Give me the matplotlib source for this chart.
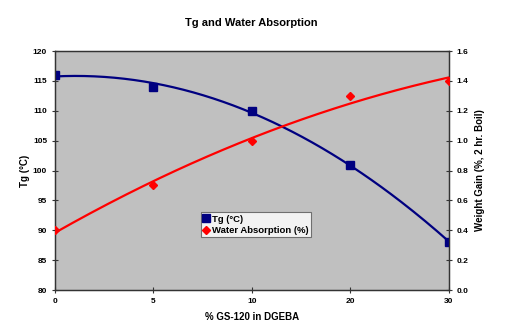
import numpy as np
import matplotlib
matplotlib.use('Agg')
import matplotlib.pyplot as plt

plt.rcParams['font.family'] = ['Liberation Sans', 'DejaVu Sans']
plt.rcParams['font.weight'] = 'bold'

# % GS-120 loading (plotted as evenly spaced categories)
categories = ['0', '5', '10', '20', '30']
tg = [116, 114, 110, 101, 88]
water = [0.4, 0.7, 1.0, 1.3, 1.4]

navy = '#000080'
red = '#FF0000'

fig = plt.figure(figsize=(5.17, 3.27), dpi=100)
ax = fig.add_axes([0.106, 0.113, 0.762, 0.731])
ax2 = ax.twinx()

x = np.arange(len(categories))
xs = np.linspace(0, len(categories) - 1, 200)

# second-order trend lines through each series
tg_fit = np.polyval(np.polyfit(x, tg, 2), xs)
w_fit = np.polyval(np.polyfit(x, water, 2), xs)

ax.set_facecolor('#C0C0C0')
ax.plot(xs, tg_fit, color=navy, lw=1.6, zorder=2)
ax.plot(x, tg, 's', color=navy, ms=5.5, zorder=3, label='Tg (°C)')
ax2.plot(xs, w_fit, color=red, lw=1.6, zorder=2)
ax2.plot(x, water, 'D', color=red, ms=4.5, zorder=3, label='Water Absorption (%)')

ax.set_xlim(0, len(categories) - 1)
ax.set_xticks(x)
ax.set_xticklabels(categories)
ax.set_ylim(80, 120)
ax.set_yticks(np.arange(80, 121, 5))
ax2.set_ylim(0, 1.6)
ax2.set_yticks(np.arange(0, 1.61, 0.2))
ax2.set_yticklabels([f'{v:.1f}' for v in np.arange(0, 1.61, 0.2)])

for a in (ax, ax2):
    a.tick_params(labelsize=6, length=5, width=0.8, direction='inout', color='#333333', pad=3)
    for s in a.spines.values():
        s.set_color('#333333')
        s.set_linewidth(0.9)

ax.set_xlabel('% GS-120 in DGEBA', fontsize=7, fontweight='bold', labelpad=5)
ax.set_ylabel('Tg (°C)', fontsize=7, fontweight='bold', labelpad=2)
ax2.set_ylabel('Weight Gain (%, 2 hr. Boil)', fontsize=7, fontweight='bold', labelpad=5)
fig.suptitle('Tg and Water Absorption', x=0.487, y=0.945, fontsize=8, fontweight='bold')

h1, l1 = ax.get_legend_handles_labels()
h2, l2 = ax2.get_legend_handles_labels()
leg = ax2.legend(h1 + h2, l1 + l2, loc='upper left', bbox_to_anchor=(0.37, 0.325),
                 fontsize=6.8, frameon=True, fancybox=False, borderpad=0.25,
                 handlelength=0.7, handletextpad=0.3, labelspacing=0.25, borderaxespad=0)
leg.get_frame().set_edgecolor('#555555')
leg.get_frame().set_linewidth(0.8)

fig.savefig('out.png', dpi=100)
